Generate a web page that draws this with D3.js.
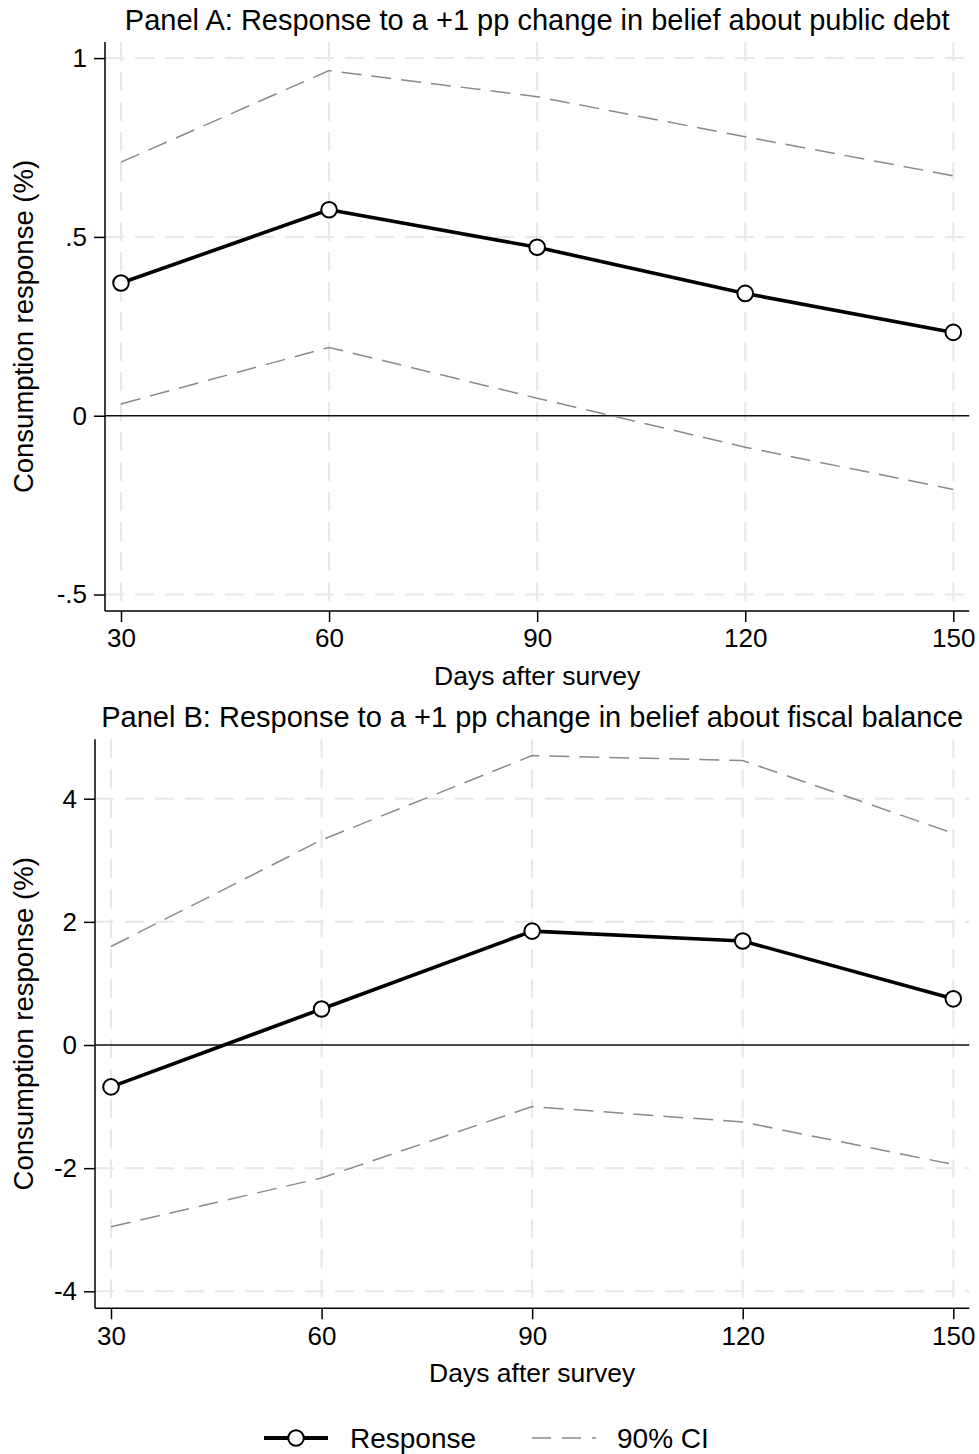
<!DOCTYPE html>
<html>
<head>
<meta charset="utf-8">
<script src="https://cdn.jsdelivr.net/npm/d3@7"></script>
<style>
  html, body { margin: 0; padding: 0; background: #fff; }
  svg { display: block; }
  text { font-family: "Liberation Sans", Arial, Helvetica, sans-serif; fill: #000; }
</style>
</head>
<body>
<script>
// ---------------- data ----------------
const days = [30, 60, 90, 120, 150];
const xTickLabels = ["30", "60", "90", "120", "150"];

const panelATitle = "Panel A: Response to a +1 pp change in belief about public debt";
const debtResponse = [0.371, 0.576, 0.471, 0.342, 0.233];
const debtUpper    = [0.709, 0.965, 0.892, 0.780, 0.671];
const debtLower    = [0.033, 0.191, 0.049, -0.088, -0.206];
const debtYTicks   = [-0.5, 0, 0.5, 1];
const debtYTickLabels = ["-.5", "0", ".5", "1"];

const panelBTitle = "Panel B: Response to a +1 pp change in belief about fiscal balance";
const fiscalResponse = [-0.68, 0.585, 1.85, 1.69, 0.75];
const fiscalUpper    = [1.60, 3.33, 4.70, 4.62, 3.44];
const fiscalLower    = [-2.95, -2.16, -1.00, -1.25, -1.94];
const fiscalYTicks   = [-4, -2, 0, 2, 4];
const fiscalYTickLabels = ["-4", "-2", "0", "2", "4"];

const xTitle = "Days after survey";
const yTitle = "Consumption response (%)";
const legendLabels = ["Response", "90% CI"];

// ---------------- drawing ----------------
const W = 979, H = 1454;
const svg = d3.select("body").append("svg").attr("width", W).attr("height", H);

const GRID = "#e8e8e8";
const CI = "#8a8a8a";

function drawPanel(o) {
  const g = svg.append("g");
  const pad = 16; // plot region padding beyond first/last x tick
  const x = d3.scaleLinear().domain([30, 150]).range([o.left + pad, o.right - pad]);
  const y = d3.scaleLinear().domain(o.yDomain).range([o.bottom, o.top]);

  // gridlines
  g.append("g").selectAll("line.hg").data(o.yTicks.filter(v => v !== 0)).join("line")
    .attr("x1", o.left).attr("x2", o.right)
    .attr("y1", d => y(d)).attr("y2", d => y(d))
    .attr("stroke", GRID).attr("stroke-width", 2).attr("stroke-dasharray", "19,11");
  g.append("g").selectAll("line.vg").data(days).join("line")
    .attr("x1", d => x(d)).attr("x2", d => x(d))
    .attr("y1", o.top).attr("y2", o.bottom)
    .attr("stroke", GRID).attr("stroke-width", 2).attr("stroke-dasharray", "19,11");

  // zero line
  g.append("line").attr("x1", o.left).attr("x2", o.right)
    .attr("y1", y(0)).attr("y2", y(0))
    .attr("stroke", "#111").attr("stroke-width", 1.5);

  const line = d3.line().x((d, i) => x(days[i])).y(d => y(d));

  // CI lines
  [o.upper, o.lower].forEach(arr => {
    g.append("path").datum(arr).attr("d", line)
      .attr("fill", "none").attr("stroke", CI).attr("stroke-width", 1.5)
      .attr("stroke-dasharray", "20,10");
  });

  // response
  g.append("path").datum(o.resp).attr("d", line)
    .attr("fill", "none").attr("stroke", "#000").attr("stroke-width", 3.6)
    .attr("stroke-linejoin", "round");
  g.append("g").selectAll("circle").data(o.resp).join("circle")
    .attr("cx", (d, i) => x(days[i])).attr("cy", d => y(d)).attr("r", 7.8)
    .attr("fill", "#fff").attr("stroke", "#000").attr("stroke-width", 2);

  // axes
  const xAxis = d3.axisBottom(x).tickValues(days).tickFormat((d, i) => xTickLabels[i])
    .tickSize(11).tickSizeOuter(0).tickPadding(7);
  const gx = g.append("g").attr("transform", `translate(0,${o.bottom})`).call(xAxis);
  gx.select(".domain").remove();
  gx.selectAll(".tick line").attr("stroke", "#000").attr("stroke-width", 1.5);
  gx.selectAll(".tick text").attr("font-size", 26).attr("dy", "0.71em");
  gx.append("line").attr("x1", o.left).attr("x2", o.right).attr("y1", 0).attr("y2", 0)
    .attr("stroke", "#000").attr("stroke-width", 1.5);

  const yAxis = d3.axisLeft(y).tickValues(o.yTicks)
    .tickFormat(d => o.yTickLabels[o.yTicks.indexOf(d)])
    .tickSize(11).tickSizeOuter(0).tickPadding(7);
  const gy = g.append("g").attr("transform", `translate(${o.left},0)`).call(yAxis);
  gy.select(".domain").remove();
  gy.selectAll(".tick line").attr("stroke", "#000").attr("stroke-width", 1.5);
  gy.selectAll(".tick text").attr("font-size", 26);
  gy.append("line").attr("x1", 0).attr("x2", 0).attr("y1", o.top).attr("y2", o.bottom)
    .attr("stroke", "#000").attr("stroke-width", 1.5);

  g.selectAll(".tick text").attr("font-family", "'Liberation Sans', Arial, sans-serif").attr("fill", "#000");

  const cx = (o.left + o.right) / 2;
  // title
  g.append("text").attr("x", cx).attr("y", o.titleY).attr("text-anchor", "middle")
    .attr("font-size", 29).text(o.title);
  // x title
  g.append("text").attr("x", cx).attr("y", o.bottom + 74).attr("text-anchor", "middle")
    .attr("font-size", 26.5).text(xTitle);
  // y title
  const cy = (o.top + o.bottom) / 2;
  g.append("text").attr("transform", `translate(33,${cy}) rotate(-90)`)
    .attr("text-anchor", "middle").attr("font-size", 27.5).text(yTitle);
}

drawPanel({
  left: 105, right: 969.3, top: 42, bottom: 611,
  yDomain: [-0.546, 1.045], yTicks: debtYTicks, yTickLabels: debtYTickLabels,
  resp: debtResponse, upper: debtUpper, lower: debtLower,
  title: panelATitle, titleY: 30
});

drawPanel({
  left: 95, right: 969.3, top: 739.3, bottom: 1308.3,
  yDomain: [-4.276, 4.965], yTicks: fiscalYTicks, yTickLabels: fiscalYTickLabels,
  resp: fiscalResponse, upper: fiscalUpper, lower: fiscalLower,
  title: panelBTitle, titleY: 727
});

// legend
const lg = svg.append("g");
const ly = 1438;
lg.append("line").attr("x1", 264).attr("x2", 328).attr("y1", ly).attr("y2", ly)
  .attr("stroke", "#000").attr("stroke-width", 4);
lg.append("circle").attr("cx", 296).attr("cy", ly).attr("r", 7.8)
  .attr("fill", "#fff").attr("stroke", "#000").attr("stroke-width", 2);
lg.append("text").attr("x", 350).attr("y", ly + 9.5).attr("font-size", 28).text(legendLabels[0]);
lg.append("line").attr("x1", 532).attr("x2", 596).attr("y1", ly).attr("y2", ly)
  .attr("stroke", CI).attr("stroke-width", 1.5).attr("stroke-dasharray", "19,11");
lg.append("text").attr("x", 617).attr("y", ly + 9.5).attr("font-size", 28).text(legendLabels[1]);
</script>
</body>
</html>
